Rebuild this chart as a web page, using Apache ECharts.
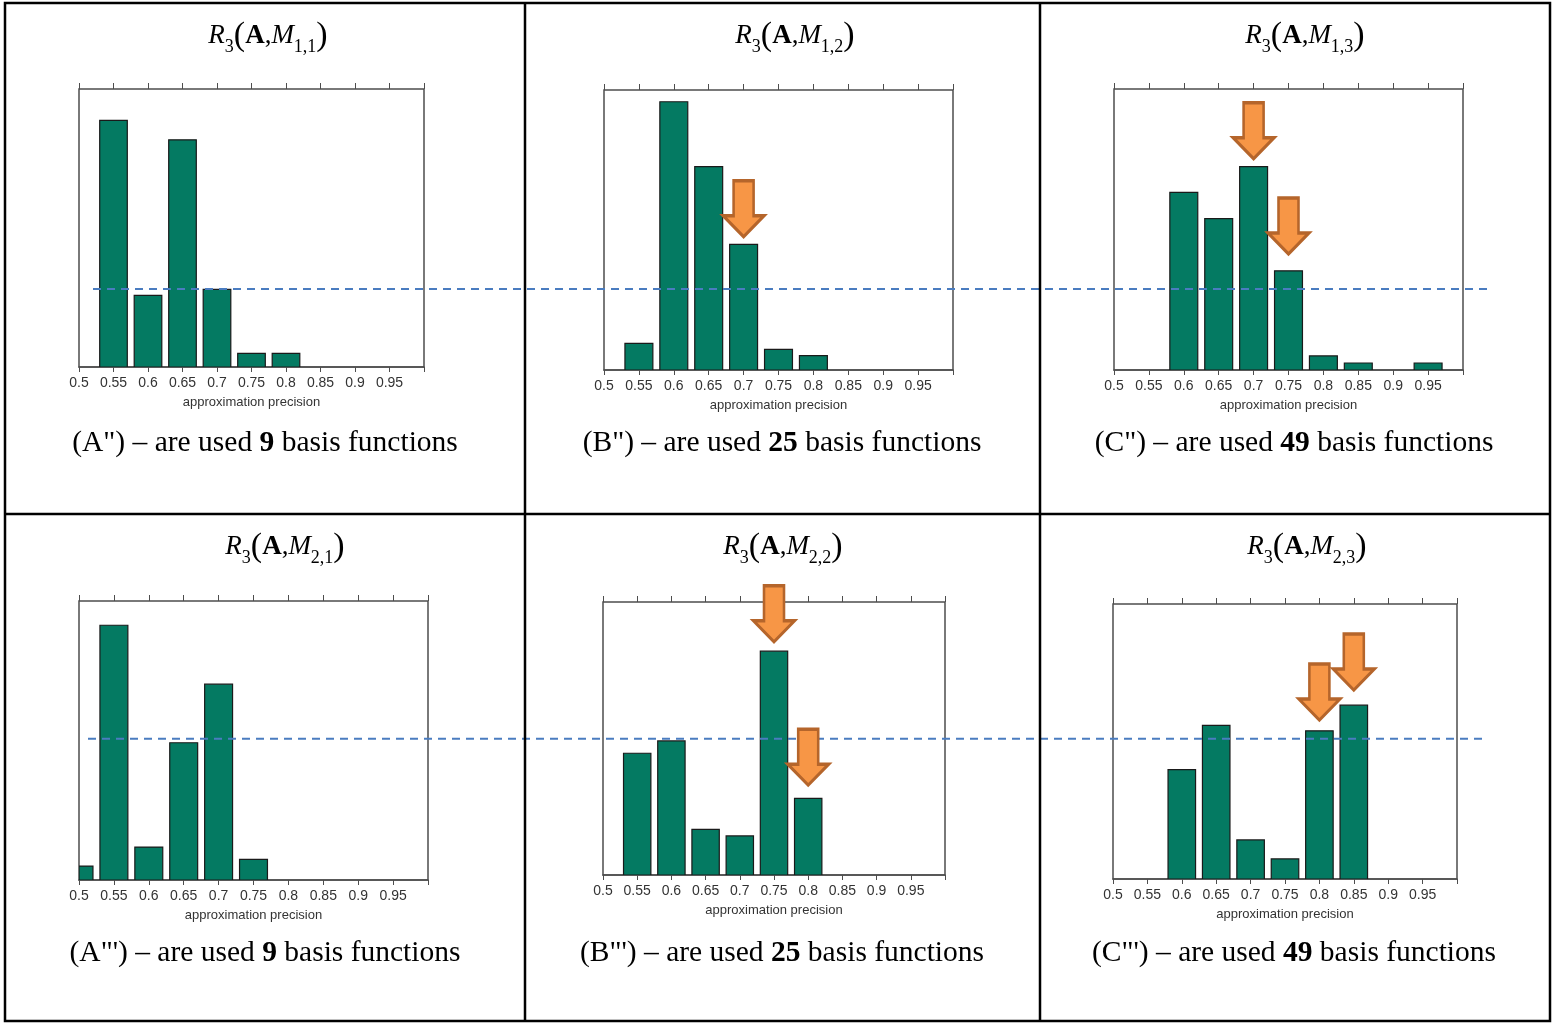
<!DOCTYPE html>
<html><head><meta charset="utf-8">
<script src="https://cdn.jsdelivr.net/npm/echarts@6/dist/echarts.min.js"></script>
<style>html,body{margin:0;padding:0;background:#fff}#c{width:1556px;height:1023px}</style>
</head><body><div id="c"></div>
<script>
// ---- data ----
const xTickLabels = ['0.5','0.55','0.6','0.65','0.7','0.75','0.8','0.85','0.9','0.95',''];
const binsA1 = [0.55,0.6,0.65,0.7,0.75,0.8];
const valsA1 = [88.7,25.8,81.7,27.9,4.9,4.9];
const binsB1 = [0.55,0.6,0.65,0.7,0.75,0.8];
const valsB1 = [9.5,95.8,72.6,44.9,7.4,5.1];
const binsC1 = [0.6,0.65,0.7,0.75,0.8,0.85,0.95];
const valsC1 = [63.2,53.9,72.4,35.3,5.0,2.5,2.5];
const binsA2 = [0.5,0.55,0.6,0.65,0.7,0.75];
const valsA2 = [5.0,91.3,11.8,49.2,70.2,7.4];
const binsB2 = [0.55,0.6,0.65,0.7,0.75,0.8];
const valsB2 = [44.6,49.1,16.7,14.3,82.0,28.1];
const binsC2 = [0.6,0.65,0.7,0.75,0.8,0.85];
const valsC2 = [39.8,55.9,14.2,7.3,53.9,63.2];
const binWidth = 0.04;
// arrow annotations: [bin, tip level]
const arrowsA1 = [];
const arrowsB1 = [[0.7,47.6]];
const arrowsC1 = [[0.7,75.2],[0.75,41.3]];
const arrowsA2 = [];
const arrowsB2 = [[0.75,85.4],[0.8,32.9]];
const arrowsC2 = [[0.8,57.8],[0.85,68.7]];
const thresholdRow1 = 28.1;
const thresholdRow2 = 50.6;
const panelTags = ['(A")','(B")','(C")','(A"\')','(B"\')','(C"\')'];
const basisCounts = [9,25,49,9,25,49];
const subscripts = ['1,1','1,2','1,3','2,1','2,2','2,3'];
const axisName = 'approximation precision';

// ---- layout / style ----
const panels = [
  {bins:binsA1, vals:valsA1, arrows:arrowsA1, grid:{left:79,top:89,width:345,height:278}, title:[268,36], cap:[265,442]},
  {bins:binsB1, vals:valsB1, arrows:arrowsB1, grid:{left:604,top:90,width:349,height:280}, title:[795,36], cap:[782,442]},
  {bins:binsC1, vals:valsC1, arrows:arrowsC1, grid:{left:1114,top:89,width:349,height:281}, title:[1305,36], cap:[1294,442]},
  {bins:binsA2, vals:valsA2, arrows:arrowsA2, grid:{left:79,top:601,width:349,height:279}, title:[285,547], cap:[265,952]},
  {bins:binsB2, vals:valsB2, arrows:arrowsB2, grid:{left:603,top:602,width:342,height:273}, title:[783,547], cap:[782,952]},
  {bins:binsC2, vals:valsC2, arrows:arrowsC2, grid:{left:1113,top:604,width:344,height:275}, title:[1307,547], cap:[1294,952]}
];
const BAR = '#047a62', AXIS = '#4d4d4d';
const arrowPath = 'path://M10.5,0 L30.5,0 L30.5,35 L41,35 L20.5,56 L0,35 L10.5,35 Z';
const serif = '"Liberation Serif","Times New Roman",serif';
const sans = '"Liberation Sans",Arial,sans-serif';

function renderBar(params, api) {
  const x = api.value(0), y = api.value(1);
  const p0 = api.coord([x - binWidth / 2, y]);
  const p1 = api.coord([x + binWidth / 2, 0]);
  const cs = params.coordSys;
  const shape = echarts.graphic.clipRectByRect(
    {x:p0[0], y:p0[1], width:p1[0] - p0[0], height:p1[1] - p0[1]},
    {x:cs.x, y:cs.y, width:cs.width, height:cs.height});
  if (!shape) return null;
  return {type:'rect', shape:shape, style:{fill:BAR, stroke:'#1a1a1a', lineWidth:1.2}};
}

const grids = [], xAxes = [], yAxes = [], series = [], titles = [];
panels.forEach((p, i) => {
  grids.push(Object.assign({show:true, borderColor:AXIS, borderWidth:1.5, backgroundColor:'transparent'}, p.grid));
  xAxes.push({type:'value', gridIndex:i, min:0.5, max:1.0, interval:0.05, position:'bottom',
    axisLine:{show:true, lineStyle:{color:AXIS, width:1.5}},
    axisTick:{show:true, length:5, lineStyle:{color:AXIS}},
    splitLine:{show:false},
    axisLabel:{color:'#333', fontSize:14, fontFamily:sans, margin:9,
      formatter:(v, idx) => xTickLabels[idx] || ''},
    name:axisName, nameLocation:'middle', nameGap:29,
    nameTextStyle:{color:'#333', fontSize:13, fontFamily:sans}});
  xAxes.push({type:'value', gridIndex:i, min:0.5, max:1.0, interval:0.05, position:'top',
    axisLine:{show:false}, axisTick:{show:true, length:6, lineStyle:{color:AXIS}},
    axisLabel:{show:false}, splitLine:{show:false}});
  yAxes.push({type:'value', gridIndex:i, min:0, max:100, show:false});
  series.push({type:'custom', xAxisIndex:2*i, yAxisIndex:i, clip:true,
    data:p.bins.map((b, j) => [b, p.vals[j]]),
    encode:{x:0, y:1}, renderItem:renderBar});
  if (p.arrows.length) {
    series.push({type:'scatter', xAxisIndex:2*i, yAxisIndex:i, z:6, clip:false,
      symbol:arrowPath, symbolSize:[41,56], symbolOffset:[0,'-50%'],
      itemStyle:{color:'#F79646', borderColor:'#B5652B', borderWidth:3, opacity:1},
      data:p.arrows});
  }
  const base = {fontFamily:serif, fontWeight:'normal', color:'#000'};
  titles.push({text:'{r|R}{s|3}{p|(}{a|A}{c|,}{r|M}{s|' + subscripts[i] + '}{p|)}',
    left:p.title[0], top:p.title[1], textAlign:'center', textVerticalAlign:'middle', padding:0,
    textStyle:{fontWeight:'normal', rich:{
      r:Object.assign({}, base, {fontStyle:'italic', fontSize:27, lineHeight:40, verticalAlign:'middle'}),
      a:Object.assign({}, base, {fontWeight:'bold', fontSize:27, lineHeight:40, verticalAlign:'middle'}),
      c:Object.assign({}, base, {fontSize:27, lineHeight:40, verticalAlign:'middle'}),
      p:Object.assign({}, base, {fontSize:34, lineHeight:40, verticalAlign:'middle'}),
      s:Object.assign({}, base, {fontSize:18, lineHeight:25, verticalAlign:'bottom'})
    }}});
  titles.push({text:'{n|' + panelTags[i] + ' – are used }{b|' + basisCounts[i] + '}{n| basis functions}',
    left:p.cap[0], top:p.cap[1] + 1, textAlign:'center', textVerticalAlign:'middle', padding:0,
    textStyle:{fontWeight:'normal', rich:{
      n:Object.assign({}, base, {fontSize:29.5}),
      b:Object.assign({}, base, {fontSize:29.5, fontWeight:'bold'})
    }}});
});

// threshold lines spanning the rows
const lineRows = [
  {value:thresholdRow1, grid:{left:93, top:89, width:1394, height:278}},
  {value:thresholdRow2, grid:{left:88, top:601, width:1395, height:279}}
];
lineRows.forEach((r, k) => {
  const gi = panels.length + k;
  grids.push(Object.assign({show:false}, r.grid));
  xAxes.push({type:'value', gridIndex:gi, min:0, max:1, show:false});
  yAxes.push({type:'value', gridIndex:gi, min:0, max:100, show:false});
  series.push({type:'line', xAxisIndex:xAxes.length-1, yAxisIndex:yAxes.length-1, z:5,
    data:[[0, r.value],[1, r.value]], symbol:'none',
    lineStyle:{color:'#4a7cc0', width:2, type:[8,6]}});
});

const border = {stroke:'#000', lineWidth:2.5};
const graphic = [
  {type:'rect', shape:{x:5, y:3, width:1545, height:1018}, style:{fill:'none', stroke:'#000', lineWidth:2.5}, z:10},
  {type:'line', shape:{x1:525, y1:3, x2:525, y2:1021}, style:border, z:10},
  {type:'line', shape:{x1:1040, y1:3, x2:1040, y2:1021}, style:border, z:10},
  {type:'line', shape:{x1:5, y1:514, x2:1550, y2:514}, style:border, z:10}
];

const chart = echarts.init(document.getElementById('c'), null, {renderer:'canvas'});
chart.setOption({animation:false, backgroundColor:'#fff', title:titles, grid:grids, xAxis:xAxes, yAxis:yAxes, series:series, graphic:graphic});
</script></body></html>
